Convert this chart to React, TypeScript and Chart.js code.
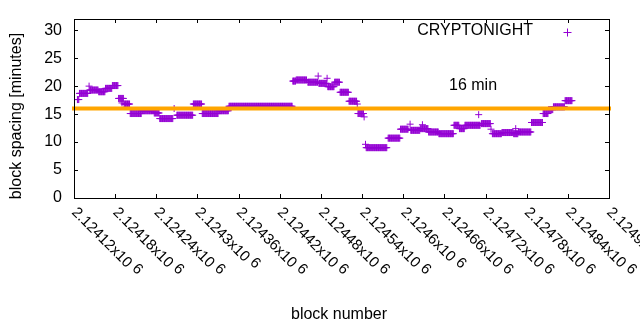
import React, { useEffect, useRef } from 'react';
import { Chart, registerables } from 'chart.js';

Chart.register(...registerables);

// ---- data ----
const BASE_BLOCK = 2124120;
const X_MIN = 2124120;
const X_MAX = 2124900;
const X_STEP = 60;
const X_TICK_LABELS = [
  '2.12412x10', '2.12418x10', '2.12424x10', '2.1243x10', '2.12436x10',
  '2.12442x10', '2.12448x10', '2.12454x10', '2.1246x10', '2.12466x10',
  '2.12472x10', '2.12478x10', '2.12484x10', '2.1249x10',
];
const X_TICK_EXPONENT = '6';
const Y_MIN = 0;
const Y_MAX = 32;
const Y_TICKS = [0, 5, 10, 15, 20, 25, 30];

// runs of consecutive blocks (offset from BASE_BLOCK) with the same spacing value
const RUN_START = [5, 8, 22, 23, 36, 46, 56, 65, 70, 73, 82, 99, 117, 125, 146, 150, 174, 187, 211, 226, 319, 324, 341, 356, 357, 369, 370, 380, 388, 401, 413, 414, 423, 425, 426, 458, 476, 490, 491, 505, 508, 517, 532, 554, 562, 570, 590, 594, 608, 610, 624, 641, 644, 648, 667, 684, 692, 699, 716];
const RUN_END = [7, 20, 22, 35, 45, 55, 64, 72, 70, 81, 98, 116, 124, 144, 146, 173, 186, 210, 225, 318, 323, 339, 355, 356, 368, 369, 379, 387, 400, 412, 413, 422, 423, 425, 456, 475, 487, 490, 504, 516, 508, 531, 553, 561, 569, 592, 590, 607, 608, 623, 640, 647, 644, 666, 683, 691, 698, 715, 726];
const RUN_VALUE = [17.6, 18.7, 20.0, 19.3, 19.0, 19.6, 20.1, 17.8, 17.0, 16.8, 15.1, 15.6, 15.2, 14.2, 16.0, 14.8, 16.8, 15.1, 15.6, 16.4, 20.9, 21.1, 20.7, 21.8, 20.5, 21.4, 19.9, 20.7, 18.9, 17.3, 16.8, 15.1, 14.5, 9.6, 9.0, 10.7, 12.3, 13.2, 12.1, 12.4, 13.1, 11.8, 11.5, 13.0, 12.4, 13.0, 14.9, 13.3, 12.3, 11.5, 11.7, 11.5, 12.4, 11.8, 13.5, 15.1, 15.8, 16.3, 17.4];

const TARGET_MINUTES = 16;
const TARGET_LABEL = '16 min';
const SERIES_LABEL = 'CRYPTONIGHT';
const X_TITLE = 'block number';
const Y_TITLE = 'block spacing [minutes]';

const PURPLE = '#9400D3';
const ORANGE = '#FFA500';
const FONT = '16px "Liberation Sans", Arial, sans-serif';
const TICK_FONT = '15px "Liberation Sans", Arial, sans-serif';

function buildPoints() {
  const pts: { x: number; y: number }[] = [];
  for (let i = 0; i < RUN_START.length; i++) {
    for (let b = RUN_START[i]; b <= RUN_END[i]; b++) {
      pts.push({ x: BASE_BLOCK + b, y: RUN_VALUE[i] });
    }
  }
  return pts;
}

const decorPlugin = {
  id: 'gnuplotDecor',
  afterDraw(chart: any) {
    const ctx: CanvasRenderingContext2D = chart.ctx;
    const { left, right, top, bottom } = chart.chartArea;
    const xs = chart.scales.x;
    const ys = chart.scales.y;
    ctx.save();
    ctx.strokeStyle = '#000';
    ctx.lineWidth = 1;
    // frame
    ctx.strokeRect(Math.round(left) + 0.5, Math.round(top) + 0.5, Math.round(right - left), Math.round(bottom - top));
    // x ticks
    ctx.beginPath();
    for (let i = 0; i < X_TICK_LABELS.length; i++) {
      const px = Math.round(xs.getPixelForValue(X_MIN + i * X_STEP)) + 0.5;
      ctx.moveTo(px, bottom);
      ctx.lineTo(px, bottom - 4);
      ctx.moveTo(px, top);
      ctx.lineTo(px, top + 4);
    }
    // y ticks
    for (const v of Y_TICKS) {
      const py = Math.round(ys.getPixelForValue(v)) + 0.5;
      ctx.moveTo(left, py);
      ctx.lineTo(left + 4, py);
      ctx.moveTo(right, py);
      ctx.lineTo(right - 4, py);
    }
    ctx.stroke();

    ctx.fillStyle = '#000';
    ctx.font = FONT;
    // y tick labels
    ctx.textAlign = 'right';
    ctx.textBaseline = 'middle';
    for (const v of Y_TICKS) {
      ctx.fillText(String(v), left - 12, ys.getPixelForValue(v));
    }
    // x tick labels rotated
    for (let i = 0; i < X_TICK_LABELS.length; i++) {
      const px = xs.getPixelForValue(X_MIN + i * X_STEP);
      ctx.save();
      ctx.translate(px, bottom + 12);
      ctx.rotate(Math.PI / 4);
      ctx.textAlign = 'left';
      ctx.textBaseline = 'middle';
      ctx.font = TICK_FONT;
      const t = X_TICK_LABELS[i];
      ctx.fillText(t, 0, 0);
      const w = ctx.measureText(t + ' ').width;
      ctx.fillText(X_TICK_EXPONENT, w, -3);
      ctx.restore();
    }
    // axis titles
    ctx.textAlign = 'center';
    ctx.textBaseline = 'middle';
    ctx.fillText(X_TITLE, 339, 315);
    ctx.save();
    ctx.translate(17, 116);
    ctx.rotate(-Math.PI / 2);
    ctx.fillText(Y_TITLE, 0, 0);
    ctx.restore();
    // legend
    ctx.textAlign = 'right';
    ctx.fillText(SERIES_LABEL, 533, 31);
    ctx.strokeStyle = PURPLE;
    ctx.beginPath();
    ctx.moveTo(563.5, 32.5);
    ctx.lineTo(571.5, 32.5);
    ctx.moveTo(567.5, 28.5);
    ctx.lineTo(567.5, 36.5);
    ctx.stroke();
    // target label
    ctx.textAlign = 'left';
    ctx.fillText(TARGET_LABEL, 449, 86);
    ctx.restore();
  },
};

export default function App() {
  const ref = useRef<HTMLCanvasElement>(null);
  useEffect(() => {
    if (!ref.current) return;
    const chart = new Chart(ref.current, {
      type: 'scatter',
      data: {
        datasets: [
          {
            label: 'target',
            type: 'line',
            data: [
              { x: X_MIN, y: TARGET_MINUTES },
              { x: X_MAX, y: TARGET_MINUTES },
            ],
            borderColor: ORANGE,
            borderWidth: 4,
            pointRadius: 0,
            showLine: true,
            borderCapStyle: 'square',
            clip: false,
          } as any,
          {
            label: SERIES_LABEL,
            data: buildPoints(),
            pointStyle: 'cross',
            pointRadius: 3.5,
            pointBorderWidth: 1,
            borderColor: PURPLE,
            backgroundColor: PURPLE,
            showLine: false,
          } as any,
        ],
      },
      options: {
        responsive: false,
        animation: false,
        events: [],
        layout: { padding: { left: 74, right: 31, top: 19, bottom: 132 } },
        plugins: { legend: { display: false }, tooltip: { enabled: false } },
        scales: {
          x: { type: 'linear', display: false, min: X_MIN, max: X_MAX },
          y: { type: 'linear', display: false, min: Y_MIN, max: Y_MAX },
        },
      },
      plugins: [decorPlugin],
    });
    return () => chart.destroy();
  }, []);
  return (
    <div style={{ position: 'absolute', left: 0, top: 0, width: 640, height: 330, background: '#fff' }}>
      <canvas ref={ref} width={640} height={330} style={{ display: 'block' }} />
    </div>
  );
}
